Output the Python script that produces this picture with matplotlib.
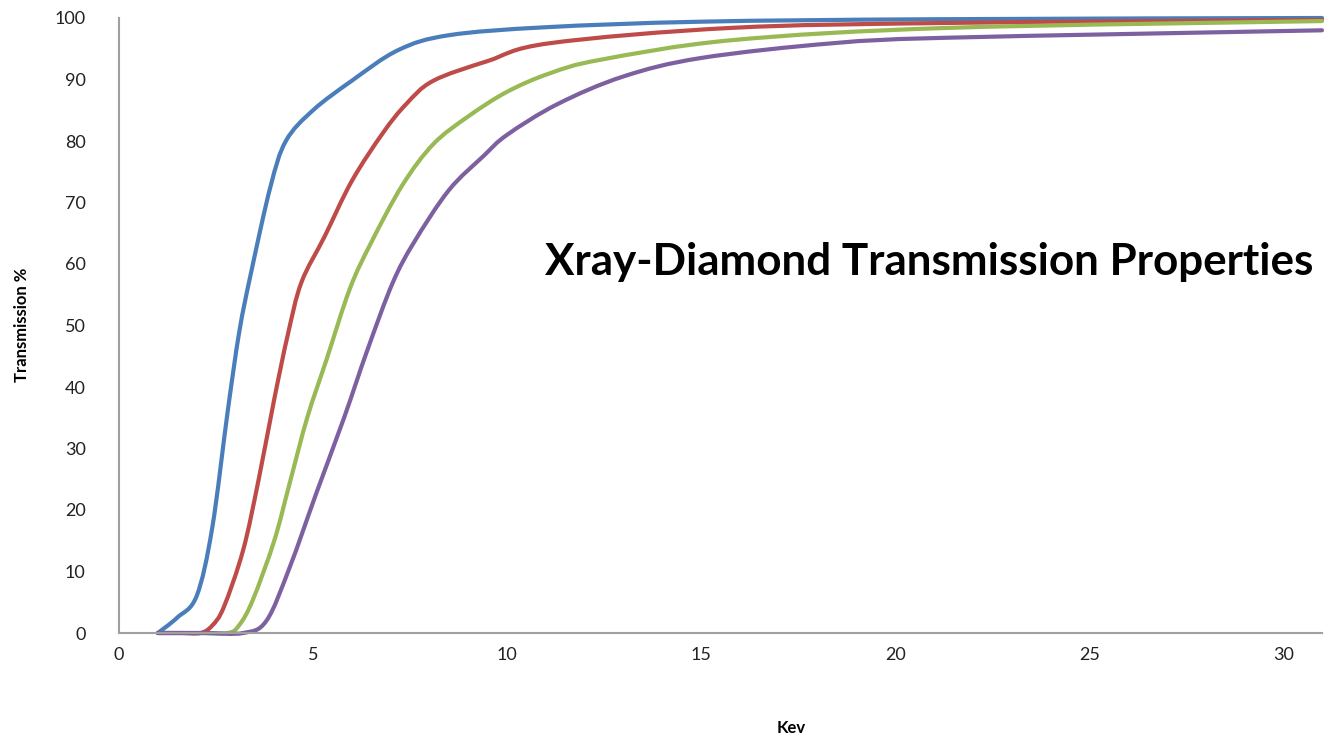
import matplotlib
matplotlib.use("Agg")
import matplotlib.pyplot as plt
from matplotlib.path import Path
from matplotlib.patches import PathPatch

FONT = "Lato"

# keV vs transmission %, four diamond thicknesses
blue_x = [1.0, 1.5, 2.0, 2.4, 2.8, 3.1, 3.4, 3.9, 4.3, 5.0, 6.0, 7.2,
          8.5, 11.0, 15.0, 21.0, 31.0]
blue_y = [0, 2.5, 6, 17, 36, 49, 58.5, 72.5, 80, 85, 89.8, 94.8,
          97.2, 98.5, 99.4, 99.8, 100]

red_x = [1.0, 1.6, 2.1, 2.4, 2.7, 3.2, 3.6, 4.0, 4.35, 4.7, 5.3, 6.0, 6.8, 7.4,
         8.1, 9.5, 11.1, 15.8, 21.4, 31.0]
red_y = [0, 0, 0, 1.2, 4.2, 13.5, 25, 38, 48.5, 57, 64.5, 73.5, 81.3, 86,
         89.8, 93.0, 95.9, 98.4, 99.2, 99.7]

green_x = [1.0, 2.0, 2.8, 3.1, 3.45, 4.0, 4.4, 4.85, 5.35, 5.95, 6.5, 7.3, 8.1,
           9.0, 10.0, 11.1, 12.4, 15.8, 21.4, 31.0]
green_y = [0, 0, 0, 1.3, 5.4, 15, 24.4, 35, 44.5, 56, 63.5, 72.8, 79.5,
           84, 88, 91, 93.2, 96.4, 98.4, 99.5]

purple_x = [1.0, 2.2, 3.2, 3.8, 4.4, 5.1, 5.8, 6.4, 7.05, 7.6, 8.5, 9.4, 10.0,
            11.3, 13.0, 15.0, 18.4, 21.4, 31.0]
purple_y = [0, 0, 0, 2, 10.7, 23, 35, 46, 56.9, 63.5, 72, 77.6, 81,
            86, 90.5, 93.5, 95.9, 96.8, 98]

series = [
    (blue_x, blue_y, "#4a7ebb"),
    (red_x, red_y, "#be4b48"),
    (green_x, green_y, "#98b954"),
    (purple_x, purple_y, "#7d60a0"),
]

x_ticks = [0, 5, 10, 15, 20, 25, 30]
y_ticks = [0, 10, 20, 30, 40, 50, 60, 70, 80, 90, 100]


def smooth_path(xs, ys):
    # Excel style "smoothed line": cubic bezier through every data point
    pts = list(zip(xs, ys))
    n = len(pts)
    verts = [pts[0]]
    codes = [Path.MOVETO]
    for i in range(n - 1):
        p0 = pts[max(i - 1, 0)]
        p1 = pts[i]
        p2 = pts[i + 1]
        p3 = pts[min(i + 2, n - 1)]
        c1 = (p1[0] + (p2[0] - p0[0]) / 6, p1[1] + (p2[1] - p0[1]) / 6)
        c2 = (p2[0] - (p3[0] - p1[0]) / 6, p2[1] - (p3[1] - p1[1]) / 6)
        verts += [c1, c2, p2]
        codes += [Path.CURVE4] * 3
    return Path(verts, codes)


def main():
    plt.rcParams["font.family"] = [FONT, "DejaVu Sans"]
    fig = plt.figure(figsize=(13.25, 7.43), dpi=100)
    ax = fig.add_axes([119 / 1325, 1 - 633 / 743, (1322 - 119) / 1325, (633 - 18) / 743])

    for xs, ys, col in series:
        patch = PathPatch(smooth_path(xs, ys), facecolor="none", edgecolor=col,
                          lw=3.0, capstyle="round", joinstyle="round", clip_on=False)
        ax.add_patch(patch)

    ax.set_xlim(0, 31)
    ax.set_ylim(0, 100)
    ax.set_xticks(x_ticks)
    ax.set_yticks(y_ticks)
    ax.tick_params(length=0, labelsize=13, colors="#222222")
    ax.tick_params(axis="y", pad=24)
    ax.tick_params(axis="x", pad=10)

    for side in ("top", "right"):
        ax.spines[side].set_visible(False)
    for side in ("left", "bottom"):
        ax.spines[side].set_color("#a0a0a0")
        ax.spines[side].set_linewidth(1.5)

    fig.text(777 / 1325, 1 - 733 / 743, "Kev", fontsize=12, fontweight="bold",
             ha="left", va="baseline")
    fig.text(22 / 1325, 1 - 325 / 743, "Transmission %", fontsize=12,
             fontweight="bold", rotation=90, ha="center", va="center")

    fig.text(545 / 1325, 1 - 275 / 743, "Xray-Diamond Transmission Properties",
             fontsize=31.7, fontweight="bold", ha="left", va="baseline")

    fig.savefig("out.png", dpi=100)
    plt.close(fig)


if __name__ == "__main__":
    main()
